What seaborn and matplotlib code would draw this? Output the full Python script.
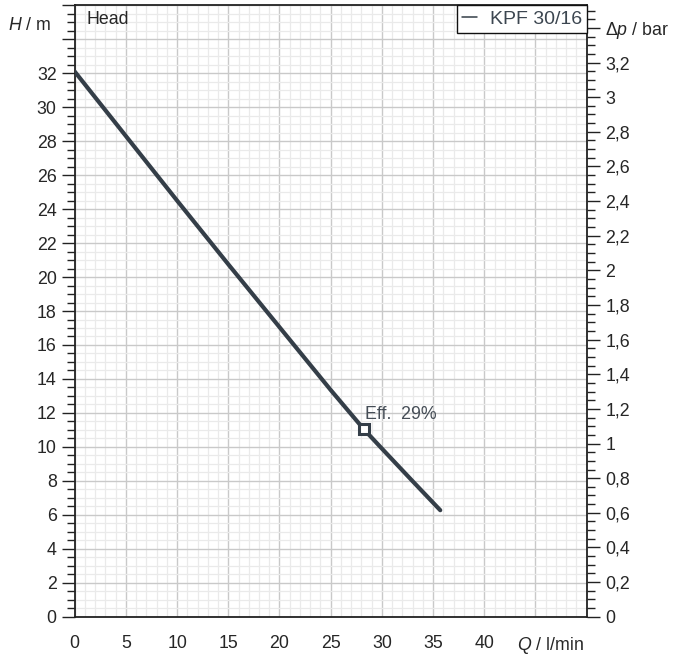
import numpy as np
import pandas as pd
import seaborn as sns
import matplotlib
matplotlib.use('Agg')
import matplotlib.pyplot as plt
from matplotlib.ticker import MultipleLocator, FixedLocator, FixedFormatter
from matplotlib.transforms import offset_copy

# pump curve
flow = [0, 5, 10, 15, 20, 25, 28.25, 30, 33, 35.7]
head = [32.1, 28.3, 24.5, 20.75, 17.05, 13.35, 11.03, 9.9, 7.98, 6.27]
pump_name = 'KPF 30/16'

# best efficiency point
eff_q = [28.25]
eff_h = [11.03]
eff_text = 'Eff.  29%'

x_ticks = [0, 5, 10, 15, 20, 25, 30, 35, 40, 45, 50]
x_labels = ['0', '5', '10', '15', '20', '25', '30', '35', '40', '', '']
y_ticks = list(range(0, 37, 2))
y_labels = [str(v) for v in range(0, 33, 2)] + ['', '']
bar_ticks = [0, 0.2, 0.4, 0.6, 0.8, 1, 1.2, 1.4, 1.6, 1.8, 2, 2.2, 2.4, 2.6, 2.8, 3, 3.2, 3.4]
M_PER_BAR = 10.197

sns.set_style('white')
plt.rcParams['font.family'] = ['Liberation Sans', 'DejaVu Sans']
plt.rcParams['mathtext.fontset'] = 'custom'
plt.rcParams['mathtext.rm'] = 'Liberation Sans'
plt.rcParams['mathtext.it'] = 'Liberation Sans:italic'

line_col = '#343e48'
fs = 12.8

df = pd.DataFrame({'Q': flow, 'H': head})

fig = plt.figure(figsize=(6.81, 6.56), dpi=100)
ax = fig.add_axes([0.1097, 0.0599, 0.8615 - 0.1097, 0.9919 - 0.0599])

sns.lineplot(data=df, x='Q', y='H', color=line_col, linewidth=3, label=pump_name, ax=ax,
             solid_capstyle='round', solid_joinstyle='round', zorder=3)
ax.plot(eff_q, eff_h, marker='s', markersize=7, markerfacecolor='white', markeredgecolor=line_col,
        markeredgewidth=2.2, linestyle='none', zorder=4)
ax.text(eff_q[0] + 0.1, eff_h[0] + 0.4, eff_text, fontsize=fs, color='#454d56', va='bottom', ha='left',
        zorder=5)

ax.set_xlim(0, 50)
ax.set_ylim(0, 36)
ax.xaxis.set_major_locator(FixedLocator(x_ticks))
ax.xaxis.set_major_formatter(FixedFormatter(x_labels))
ax.xaxis.set_minor_locator(MultipleLocator(1))
ax.yaxis.set_major_locator(FixedLocator(y_ticks))
ax.yaxis.set_major_formatter(FixedFormatter(y_labels))
ax.yaxis.set_minor_locator(MultipleLocator(0.5))

ax.grid(which='major', color='#c9c9c9', linewidth=1.0)
ax.grid(which='minor', color='#eaeaea', linewidth=0.9)
ax.set_axisbelow(True)
ax.set_xlabel('')
ax.set_ylabel('')

ax.tick_params(which='major', direction='out', length=9.5, width=1, color='#222222',
               labelsize=fs, pad=3.5)
ax.tick_params(which='minor', direction='out', length=6, width=1, color='#222222')
ax.tick_params(axis='x', which='major', pad=4)
for s in ax.spines.values():
    s.set_color('#222222')
    s.set_linewidth(1.3)

# second scale in bar
ax2 = ax.twinx()
ax2.set_ylim(0, 36 / M_PER_BAR)
ax2.yaxis.set_major_locator(FixedLocator(bar_ticks))
ax2.yaxis.set_major_formatter(FixedFormatter(
    [('%g' % v).replace('.', ',') for v in bar_ticks[:-1]] + [r'$\Delta\mathit{p}$ / bar']))
ax2.yaxis.set_minor_locator(MultipleLocator(0.05))
ax2.tick_params(which='major', direction='out', length=9.5, width=1, color='#222222',
                labelsize=fs, pad=4)
ax2.tick_params(which='minor', direction='out', length=6, width=1, color='#222222')
for s in ax2.spines.values():
    s.set_visible(False)

# axis titles sit where tick labels would be
ax.text(-0.045, 34.8, r'$\mathit{H}$ / m', fontsize=fs, ha='right', va='center',
        transform=ax.get_yaxis_transform())
q_trans = offset_copy(ax.get_xaxis_transform(), fig=fig, y=-(9.5 + 4), units='points')
ax.text(46.5, 0, r'$\mathit{Q}$ / l/min', fontsize=fs, ha='center', va='top', transform=q_trans)
ax.text(0.023, 0.99, 'Head', fontsize=fs, ha='left', va='top', transform=ax.transAxes)

leg = ax.legend(loc='upper right', borderaxespad=0, fancybox=False, framealpha=1,
                edgecolor='#111111', fontsize=14, handlelength=0.8, handletextpad=0.65,
                borderpad=0.25, labelcolor='#3c4650')
leg.get_frame().set_linewidth(1.0)
for ln in leg.get_lines():
    ln.set_linewidth(1.1)
leg.set_zorder(10)
ax.set_zorder(ax2.get_zorder() + 1)
ax.patch.set_visible(False)

fig.savefig('out.png', dpi=100)
